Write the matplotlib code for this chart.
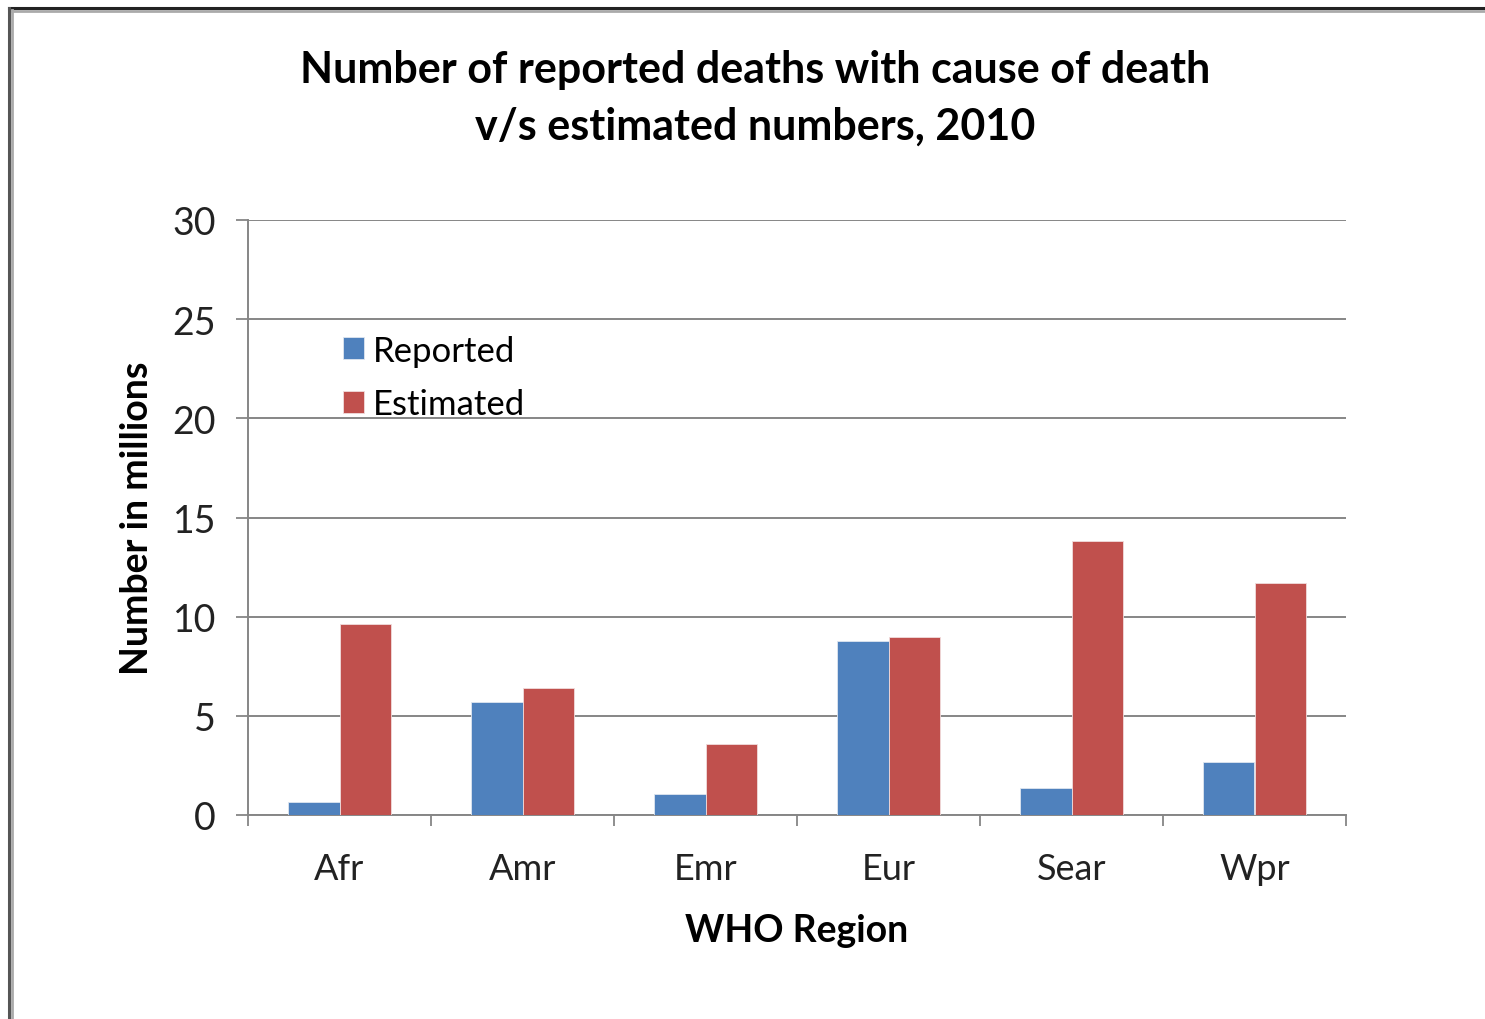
import numpy as np
import matplotlib
matplotlib.use('Agg')
import matplotlib.pyplot as plt
from matplotlib.lines import Line2D

plt.rcParams['font.family'] = ['Lato', 'DejaVu Sans']

# WHO regions, deaths in millions (2010)
regions = ['Afr', 'Amr', 'Emr', 'Eur', 'Sear', 'Wpr']
reported = [0.65, 5.7, 1.05, 8.75, 1.35, 2.65]
estimated = [9.65, 6.4, 3.6, 8.95, 13.8, 11.7]

blue = '#4F81BD'
red = '#C0504D'
grid_c = '#868686'

fig = plt.figure(figsize=(14.85, 10.2), dpi=100)
ax = fig.add_axes([248 / 1485, 1 - 816 / 1020, 1098 / 1485, 595 / 1020])

x = np.arange(len(regions))
w = 0.284
ax.bar(x - w / 2, reported, w, color=blue, edgecolor='#dfe6f0', linewidth=0.6,
       label='Reported', zorder=3)
ax.bar(x + w / 2, estimated, w, color=red, edgecolor='#f0dcdc', linewidth=0.6,
       label='Estimated', zorder=3)

ax.set_xlim(-0.5, len(regions) - 0.5)
ax.set_ylim(0, 30)
ax.set_yticks(range(0, 31, 5))
ax.yaxis.grid(True, color=grid_c, linewidth=1.4, zorder=0)
ax.set_axisbelow(True)

ax.set_xticks(x)
ax.set_xticklabels(regions)
ax.set_xticks(np.arange(-0.5, len(regions)), minor=True)
ax.tick_params(axis='x', which='major', length=0, pad=27, labelsize=26, colors='#222222')
ax.tick_params(axis='x', which='minor', length=8, width=1.3, color=grid_c)
ax.tick_params(axis='y', length=9, width=1.3, color=grid_c, pad=14, labelsize=27,
               labelcolor='#222222')

for s in ['top', 'right']:
    ax.spines[s].set_visible(False)
for s in ['left', 'bottom']:
    ax.spines[s].set_color(grid_c)
    ax.spines[s].set_linewidth(1.4)

ax.set_ylabel('Number in millions', fontsize=27, fontweight='bold', labelpad=13)
ax.set_xlabel('WHO Region', fontsize=27, fontweight='bold', labelpad=20)

fig.text(755 / 1485, 1 - 98 / 1020,
         'Number of reported deaths with cause of death\nv/s estimated numbers, 2010',
         ha='center', va='center', fontsize=31, fontweight='bold', linespacing=1.5)

ax.legend(loc='upper left', bbox_to_anchor=(0.058, 0.86), frameon=False,
          fontsize=25, handlelength=0.6, handleheight=0.6, handletextpad=0.25,
          labelspacing=0.62)

# window-style frame along top and left edges
fig.add_artist(Line2D([9 / 1485, 1], [1 - 9 / 1020] * 2, color='#222222', lw=2.2))
fig.add_artist(Line2D([9 / 1485, 1], [1 - 11.5 / 1020] * 2, color='#aaaaaa', lw=2))
fig.add_artist(Line2D([9 / 1485] * 2, [0, 1 - 9 / 1020], color='#555555', lw=2.2))
fig.add_artist(Line2D([11.5 / 1485] * 2, [0, 1 - 11 / 1020], color='#aaaaaa', lw=2))

fig.savefig('out.png', dpi=100, facecolor='white')
